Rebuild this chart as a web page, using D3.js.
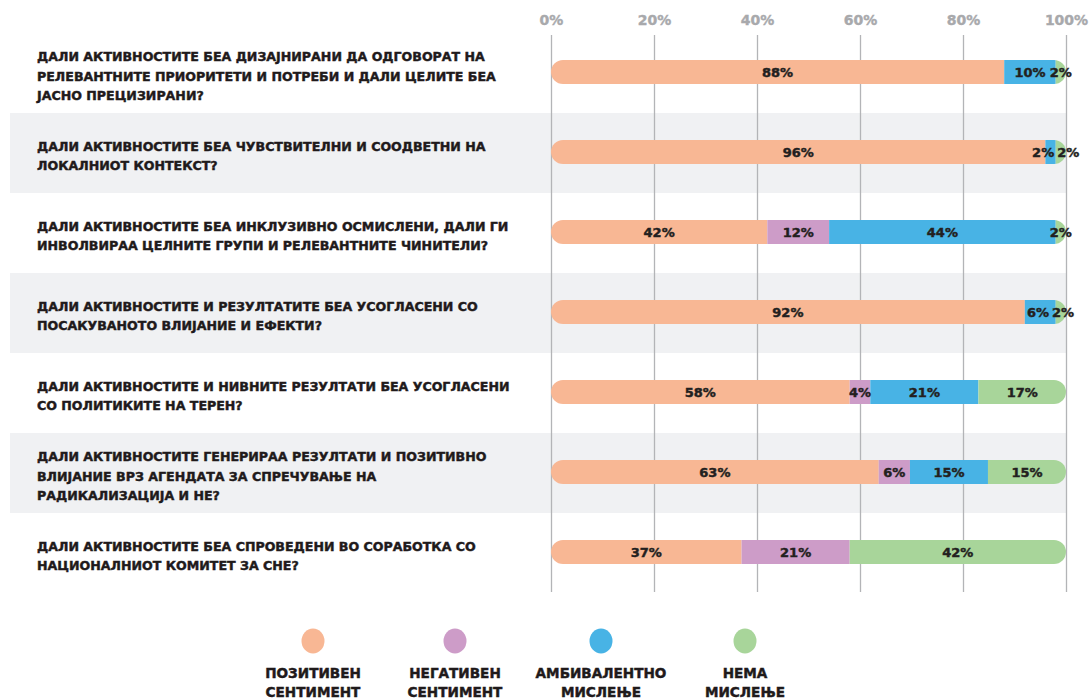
<!DOCTYPE html>
<html><head><meta charset="utf-8">
<script src="https://cdn.jsdelivr.net/npm/d3@7"></script>
<style>
html,body{margin:0;padding:0;background:#fff;}
svg{display:block;}
text{font-family:"DejaVu Sans","Noto Sans",sans-serif;}
</style></head>
<body><svg id="chart" width="1091" height="700"></svg>
<script>
const questions = [
  ["ДАЛИ АКТИВНОСТИТЕ БЕА ДИЗАЈНИРАНИ ДА ОДГОВОРАТ НА","РЕЛЕВАНТНИТЕ ПРИОРИТЕТИ И ПОТРЕБИ И ДАЛИ ЦЕЛИТЕ БЕА","ЈАСНО ПРЕЦИЗИРАНИ?"],
  ["ДАЛИ АКТИВНОСТИТЕ БЕА ЧУВСТВИТЕЛНИ И СООДВЕТНИ НА","ЛОКАЛНИОТ КОНТЕКСТ?"],
  ["ДАЛИ АКТИВНОСТИТЕ БЕА ИНКЛУЗИВНО ОСМИСЛЕНИ, ДАЛИ ГИ","ИНВОЛВИРАА ЦЕЛНИТЕ ГРУПИ И РЕЛЕВАНТНИТЕ ЧИНИТЕЛИ?"],
  ["ДАЛИ АКТИВНОСТИТЕ И РЕЗУЛТАТИТЕ БЕА УСОГЛАСЕНИ СО","ПОСАКУВАНОТО ВЛИЈАНИЕ И ЕФЕКТИ?"],
  ["ДАЛИ АКТИВНОСТИТЕ И НИВНИТЕ РЕЗУЛТАТИ БЕА УСОГЛАСЕНИ","СО ПОЛИТИКИТЕ НА ТЕРЕН?"],
  ["ДАЛИ АКТИВНОСТИТЕ ГЕНЕРИРАА РЕЗУЛТАТИ И ПОЗИТИВНО","ВЛИЈАНИЕ ВРЗ АГЕНДАТА ЗА СПРЕЧУВАЊЕ НА","РАДИКАЛИЗАЦИЈА И НЕ?"],
  ["ДАЛИ АКТИВНОСТИТЕ БЕА СПРОВЕДЕНИ ВО СОРАБОТКА СО","НАЦИОНАЛНИОТ КОМИТЕТ ЗА СНЕ?"]
];
const seriesNames = [["ПОЗИТИВЕН","СЕНТИМЕНТ"],["НЕГАТИВЕН","СЕНТИМЕНТ"],["АМБИВАЛЕНТНО","МИСЛЕЊЕ"],["НЕМА","МИСЛЕЊЕ"]];
const seriesColors = ["#f8b794","#cd9cc8","#48b3e5","#a8d59a"];
const positive    = [88, 96, 42, 92, 58, 63, 37];
const negative    = [0, 0, 12, 0, 4, 6, 21];
const ambivalent  = [10, 2, 44, 6, 21, 15, 0];
const noOpinion   = [2, 2, 2, 2, 17, 15, 42];
const tickValues = [0, 20, 40, 60, 80, 100];

const series = [positive, negative, ambivalent, noOpinion];
const svg = d3.select("#chart");
const ink = "#1f1a1b";

const x = d3.scaleLinear().domain([0, 100]).range([551, 1066]);
const y = d3.scaleBand().domain(d3.range(questions.length)).range([33, 593]).padding(0);
const barH = 24;

// alternating bands
svg.append("g").selectAll("rect").data(d3.range(questions.length).filter(i => i % 2 === 1))
  .join("rect")
  .attr("x", 10).attr("y", i => y(i)).attr("width", x(100) - 10).attr("height", y.bandwidth())
  .attr("fill", "#f0f1f3");

// grid + ticks via axis
const axis = d3.axisTop(x).tickValues(tickValues).tickFormat(d => d + "%").tickSize(-(592 - 35)).tickPadding(11);
const ga = svg.append("g").attr("transform", "translate(0,35)").call(axis);
ga.select(".domain").remove();
ga.selectAll(".tick line").attr("stroke", "#b3b4b7").attr("stroke-width", 1.3);
ga.selectAll(".tick text").attr("fill", "#a8a9ac").attr("font-size", 14).attr("font-weight", "bold")
  .attr("stroke", "#a8a9ac").attr("stroke-width", 0.4)
  .attr("font-family", "'DejaVu Sans',sans-serif").attr("dy", "0.1em");

// question labels
const ql = svg.append("g");
questions.forEach((lines, i) => {
  const cy = y(i) + y.bandwidth() / 2 + 3;
  const lh = 19.5;
  const t = ql.append("text").attr("x", 37).attr("font-size", 12.6).attr("font-weight", "bold")
    .attr("fill", ink).attr("stroke", ink).attr("stroke-width", 0.45);
  lines.forEach((ln, k) => {
    t.append("tspan").attr("x", 37).attr("y", cy + (k - (lines.length - 1) / 2) * lh).attr("dy", "0.36em").text(ln);
  });
});

// bars (each row drawn as share of its total)
const defs = svg.append("defs");
const bars = svg.append("g");
questions.forEach((q, i) => {
  const cy = y(i) + y.bandwidth() / 2 - 1;
  const total = d3.sum(series, s => s[i]);
  const id = "clip" + i;
  defs.append("clipPath").attr("id", id).append("rect")
    .attr("x", x(0)).attr("y", cy - barH / 2).attr("width", x(100) - x(0)).attr("height", barH)
    .attr("rx", barH / 2).attr("ry", barH / 2);
  const g = bars.append("g");
  const segG = g.append("g").attr("clip-path", `url(#${id})`);
  let acc = 0;
  const segs = [];
  series.forEach((s, k) => {
    const v = s[i];
    if (v > 0) segs.push({k, v, x0: acc / total * 100, x1: (acc + v) / total * 100});
    acc += v;
  });
  segG.selectAll("rect").data(segs).join("rect")
    .attr("x", d => x(d.x0)).attr("y", cy - barH / 2)
    .attr("width", d => x(d.x1) - x(d.x0)).attr("height", barH)
    .attr("fill", d => seriesColors[d.k]);
  const labels = g.selectAll("text").data(segs).join("text")
    .attr("x", d => x((d.x0 + d.x1) / 2)).attr("y", cy).attr("dy", "0.36em")
    .attr("text-anchor", "middle").attr("font-size", 13).attr("font-weight", "bold")
    .attr("fill", "#231f20").attr("stroke", "#231f20").attr("stroke-width", 0.45)
    .text(d => d.v + "%");
  // resolve overlaps between neighbouring labels
  const nodes = labels.nodes();
  const pos = nodes.map(n => ({c: +n.getAttribute("x"), w: n.getComputedTextLength()}));
  for (let it = 0; it < 5; it++) {
    for (let j = 1; j < pos.length; j++) {
      const gap = (pos[j].c - pos[j].w / 2) - (pos[j - 1].c + pos[j - 1].w / 2);
      if (gap < 3) {
        const sh = (3 - gap) / 2;
        pos[j].c += sh; pos[j - 1].c -= sh;
      }
    }
  }
  nodes.forEach((n, j) => n.setAttribute("x", pos[j].c));
});

// legend
const legX = [313, 455, 601, 745];
const lg = svg.append("g");
seriesNames.forEach((nm, k) => {
  lg.append("ellipse").attr("cx", legX[k]).attr("cy", 641).attr("rx", 11.5).attr("ry", 12.5).attr("fill", seriesColors[k]);
  const t = lg.append("text").attr("text-anchor", "middle").attr("font-size", 13.6).attr("font-weight", "bold")
    .attr("fill", ink).attr("stroke", ink).attr("stroke-width", 0.45);
  nm.forEach((ln, j) => t.append("tspan").attr("x", legX[k]).attr("y", 673 + j * 19).attr("dy", "0.36em").text(ln));
});
</script>
</body></html>
